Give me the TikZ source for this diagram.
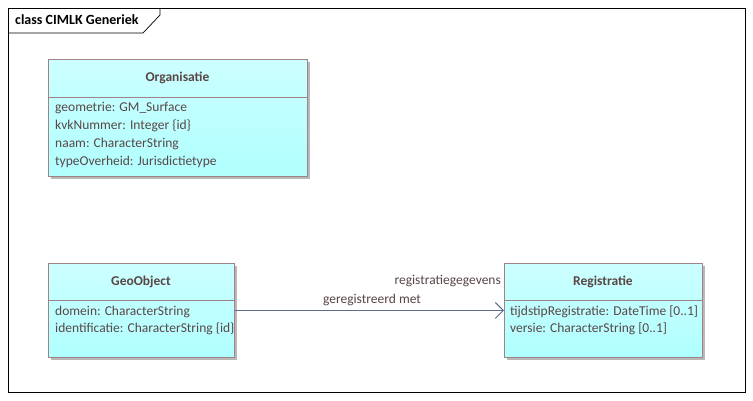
\documentclass[tikz,border=0pt]{standalone}
\usepackage{fontspec}
\setmainfont{Carlito}
\usetikzlibrary{arrows.meta,positioning}
\definecolor{bordc}{HTML}{9E8484}
\definecolor{txtc}{HTML}{5A4646}
\definecolor{fillc}{HTML}{B0FFFF}
\definecolor{filltop}{HTML}{CCFFFF}
\definecolor{linec}{HTML}{5F6B8C}
\definecolor{shadc}{HTML}{B8B8B8}
\tikzset{
  classbox/.style={draw=bordc, line width=0.9pt, top color=filltop, bottom color=fillc, anchor=north west, inner sep=0pt},
  shad/.style={fill=shadc},
  attr/.style={anchor=west, text=txtc, font=\fontsize{13.5}{15}\selectfont, inner sep=0pt},
  ctitle/.style={text=txtc, font=\fontsize{13.5}{15}\selectfont\bfseries, inner sep=0pt},
  lbl/.style={text=txtc, font=\fontsize{13.5}{15}\selectfont, inner sep=0pt},
}
\begin{document}
\begin{tikzpicture}[x=1pt,y=-1pt]
\useasboundingbox[fill=white] (0,0) rectangle (753,400);
% frame
\draw[black, line width=0.7pt] (8,8) rectangle (745,392);
\draw[black, line width=0.7pt] (8,33) -- (143,33) -- (160,15) -- (160,8);
\node[anchor=west, inner sep=0pt, font=\fontsize{14}{16}\selectfont\bfseries] (title) at (15,20) {class CIMLK Generiek};
% shadows
\fill[shad] (51,62) rectangle (310,179);
\fill[shad] (51,266) rectangle (237,360);
\fill[shad] (507,266) rectangle (705,360);
% Organisatie
\node[classbox, minimum width=259pt, minimum height=117pt] (org) at (48,59) {};
\draw[bordc, line width=0.9pt] (48,97) -- (307,97);
\node[ctitle] (orgt) at (177.5,78) {Organisatie};
\node[attr] (o1) at (55,108) {geometrie: GM\_Surface};
\node[attr] (o2) at (55,126) {kvkNummer: Integer \{id\}};
\node[attr] (o3) at (55,144) {naam: CharacterString};
\node[attr] (o4) at (55,162) {typeOverheid: Jurisdictietype};
% GeoObject
\node[classbox, minimum width=186pt, minimum height=94pt] (geo) at (48,263) {};
\draw[bordc, line width=0.9pt] (48,300) -- (234,300);
\node[ctitle] (geot) at (141,282) {GeoObject};
\node[attr] (g1) at (55,312) {domein: CharacterString};
\node[attr] (g2) at (55,329) {identificatie: CharacterString \{id\}};
% Registratie
\node[classbox, minimum width=198pt, minimum height=94pt] (reg) at (504,263) {};
\draw[bordc, line width=0.9pt] (504,300) -- (702,300);
\node[ctitle] (regt) at (603,282) {Registratie};
\node[attr] (r1) at (510,312) {tijdstipRegistratie: DateTime [0..1]};
\node[attr] (r2) at (510,329) {versie: CharacterString [0..1]};
% connector
\draw[linec, line width=1pt, -{Straight Barb[length=8pt,width=16pt,line width=1pt]}] (geo.east) -- (reg.west);
\node[lbl, anchor=east] (l1) at (501,281) {registratiegegevens};
\node[lbl] (l2) at (372,300) {geregistreerd met};
\end{tikzpicture}
\end{document}
